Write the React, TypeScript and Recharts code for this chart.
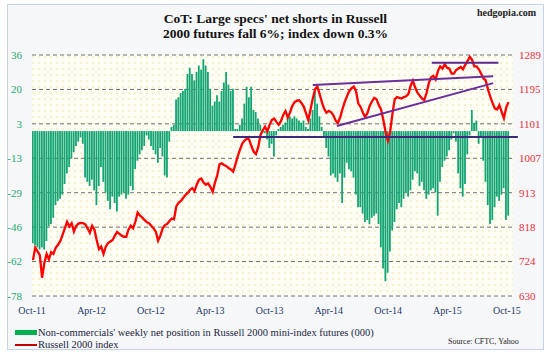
import React from 'react';
import { ComposedChart, Bar, Line, XAxis, YAxis, CartesianGrid, ReferenceLine } from 'recharts';

const AXIS_START = '2011-10-01';
const AXIS_END = '2015-10-20';
const FIRST_REPORT = '2011-10-04';

const X_TICK_DATES = ['2011-10-01', '2012-04-01', '2012-10-01', '2013-04-01', '2013-10-01', '2014-04-01', '2014-10-01', '2015-04-01', '2015-10-01'];
const X_TICK_LABELS = ['Oct-11', 'Apr-12', 'Oct-12', 'Apr-13', 'Oct-13', 'Apr-14', 'Oct-14', 'Apr-15', 'Oct-15'];

const LEFT_MIN = -78;
const LEFT_MAX = 36;
const LEFT_TICK_LABELS = ['-78', '-62', '-46', '-29', '-13', '3', '20', '36'];
const RIGHT_MIN = 630;
const RIGHT_MAX = 1289;
const RIGHT_TICK_LABELS = ['630', '724', '818', '913', '1007', '1101', '1195', '1289'];

// Non-commercials' weekly net position (000), weekly from FIRST_REPORT
const netPosition = [
  -53, -54, -55, -56, -55, -56, -52, -45, -44, -41,
  -35, -33, -32, -30, -25, -20, -17, -13, -10, -7,
  -5, -3, -6, -22, -24, -26, -23, -28, -35, -26,
  -17, -24, -29, -33, -37, -31, -34, -38, -31, -30,
  -29, -32, -30, -26, -28, -18, -14, -11, -9, -7,
  -2, -4, -7, -9, -11, -15, -8, -12, -21, -22,
  -5, 2, 3, 15, 16, 18, 19, 20, 27, 30,
  27, 24, 28, 31, 29, 34, 31, 28, 20, 12,
  14, 17, 14, 19, 23, 28, 22, 19, 20, 1,
  1, 3, 6, 13, 21, 16, 21, 10, 9, 6,
  3, -1, -1, -4, -8, -6, -12, -2, 1, 2,
  3, 4, 6, 7, 6, 7, 6, 5, 4, 5,
  2, 1, 6, 10, 19, 13, 7, 2, -3, -8,
  -12, -21, -20, -22, -24, -20, -34, -22, -15, -18,
  -19, -22, -30, -36, -36, -39, -43, -42, -44, -41,
  -40, -39, -44, -55, -65, -71, -67, -57, -47, -43,
  -37, -34, -36, -32, -29, -31, -28, -23, -19, -20,
  -26, -24, -28, -32, -30, -28, -27, -29, -40, -24,
  -17, -14, -12, -9, -4, -1, -5, -20, -27, -31,
  -25, -11, -2, 10, 4, 5, -6, -3, -14, -24,
  -35, -44, -42, -36, -31, -33, -30, -27, -42, -40,
];

// Russell 2000 index, same weeks
const russell2000 = [
  728, 762, 752, 742, 680, 720, 745, 730, 750, 745,
  762, 770, 780, 797, 815, 833, 820, 829, 806, 822,
  828, 830, 829, 826, 815, 803, 822, 812, 783, 758,
  765, 745, 765, 775, 779, 783, 795, 805, 800, 795,
  792, 792, 812, 822, 815, 833, 858, 850, 845, 838,
  832, 829, 822, 815, 806, 781, 795, 815, 824, 827,
  835, 842, 840, 875, 885, 890, 898, 906, 912, 920,
  925, 917, 935, 948, 951, 940, 934, 938, 928, 915,
  940, 960, 990, 993, 988, 985, 980, 976, 970, 990,
  1012, 1030, 1047, 1055, 1060, 1058, 1040, 1025, 1018, 1037,
  1070, 1083, 1093, 1080, 1098, 1111, 1115, 1106, 1098, 1108,
  1125, 1136, 1118, 1132, 1150, 1160, 1164, 1165, 1158, 1148,
  1130, 1111, 1140, 1170, 1195, 1203, 1182, 1160, 1142, 1131,
  1136, 1133, 1125, 1110, 1103, 1118, 1140, 1160, 1176, 1190,
  1198, 1203, 1190, 1157, 1147, 1132, 1120, 1130, 1150, 1162,
  1172, 1168, 1152, 1140, 1112, 1078, 1055, 1080, 1128, 1168,
  1174, 1172, 1170, 1174, 1176, 1182, 1205, 1219, 1200, 1186,
  1178, 1170, 1166, 1185, 1212, 1228, 1232, 1222, 1245, 1258,
  1252, 1264, 1254, 1252, 1238, 1238, 1248, 1252, 1256, 1250,
  1262, 1272, 1284, 1276, 1258, 1258, 1250, 1238, 1225, 1220,
  1195, 1175, 1158, 1143, 1140, 1152, 1134, 1116, 1145, 1160,
];

// Trend lines drawn on the index (start date, start level, end date, end level)
const TREND_LINES = [
  { from: '2013-06-11', fromLevel: 1065, to: '2015-11-04', toLevel: 1065, color: '#3b2a7e' },
  { from: '2015-02-12', fromLevel: 1268, to: '2015-09-05', toLevel: 1268, color: '#5b2a8e' },
  { from: '2014-02-11', fromLevel: 1207, to: '2015-08-20', toLevel: 1231, color: '#6a2f9a' },
  { from: '2014-04-26', fromLevel: 1095, to: '2015-08-20', toLevel: 1212, color: '#6a2f9a' },
];

const DAY_MS = 86400000;
const dayOf = (s: string) => (Date.parse(s) - Date.parse(AXIS_START)) / DAY_MS;
const firstDay = dayOf(FIRST_REPORT);
const endDay = dayOf(AXIS_END);

const data = netPosition.map((v, i) => ({ day: firstDay + 7 * i, net: v, rut: russell2000[i] }));
const xTicks = X_TICK_DATES.map(dayOf);
const leftTicks = LEFT_TICK_LABELS.map((_, k) => LEFT_MIN + (k * (LEFT_MAX - LEFT_MIN)) / (LEFT_TICK_LABELS.length - 1));
const rightTicks = RIGHT_TICK_LABELS.map((_, k) => RIGHT_MIN + (k * (RIGHT_MAX - RIGHT_MIN)) / (RIGHT_TICK_LABELS.length - 1));

const SERIF = '"Liberation Serif", "Times New Roman", "DejaVu Serif", serif';

export default function App() {
  return (
    <div style={{ position: 'absolute', left: 0, top: 0, width: 551, height: 352, background: '#ffffff', fontFamily: SERIF }}>
      <div style={{ position: 'absolute', left: 7, top: 4, width: 535, height: 344, border: '1px solid #c6d3e3', background: '#f6f7f9' }} />
      <div style={{ position: 'absolute', left: 0, top: 0 }}>
        <ComposedChart width={551} height={352} data={data} margin={{ top: 55, right: 0, bottom: 36, left: 0 }}>
          <defs>
            <pattern id="dots" width="6" height="6" patternUnits="userSpaceOnUse">
              <rect width="6" height="6" fill="#fdfdf4" />
              <circle cx="3" cy="3" r="0.8" fill="#ece3a0" />
            </pattern>
          </defs>
          <CartesianGrid yAxisId="left" vertical={false} fill="url(#dots)" stroke="#707070" strokeDasharray="4 3" />
          <XAxis
            dataKey="day"
            type="number"
            domain={[0, endDay]}
            ticks={xTicks}
            interval={0}
            tickFormatter={(_v: number, i: number) => X_TICK_LABELS[i]}
            axisLine={false}
            tickLine={false}
            tickSize={0}
            tickMargin={11}
            height={20}
            allowDataOverflow
            tick={{ fill: '#1f3864', fontSize: 10, fontFamily: SERIF }}
          />
          <YAxis
            yAxisId="left"
            domain={[LEFT_MIN, LEFT_MAX]}
            ticks={leftTicks}
            interval={0}
            tickFormatter={(_v: number, i: number) => LEFT_TICK_LABELS[i]}
            axisLine={false}
            tickLine={false}
            tickSize={0}
            tickMargin={10}
            width={32}
            allowDataOverflow
            tick={{ fill: '#22a86e', fontSize: 11, fontFamily: SERIF }}
          />
          <YAxis
            yAxisId="right"
            orientation="right"
            domain={[RIGHT_MIN, RIGHT_MAX]}
            ticks={rightTicks}
            interval={0}
            tickFormatter={(_v: number, i: number) => RIGHT_TICK_LABELS[i]}
            axisLine={false}
            tickLine={false}
            tickSize={0}
            tickMargin={6}
            width={38}
            allowDataOverflow
            tick={{ fill: '#e5303a', fontSize: 11, fontFamily: SERIF }}
          />
          <Bar yAxisId="left" dataKey="net" fill="#12a472" barSize={1.8} isAnimationActive={false} />
          <Line yAxisId="right" dataKey="rut" type="linear" stroke="#ff0000" strokeWidth={2.3} dot={false} isAnimationActive={false} />
          {TREND_LINES.map((t, k) => (
            <ReferenceLine
              key={k}
              yAxisId="right"
              ifOverflow="visible"
              stroke={t.color}
              strokeWidth={2}
              segment={[{ x: dayOf(t.from), y: t.fromLevel }, { x: dayOf(t.to), y: t.toLevel }]}
            />
          ))}
        </ComposedChart>
      </div>
      <div style={{ position: 'absolute', left: 0, width: 551, top: 11, textAlign: 'center', fontWeight: 'bold', fontSize: 13.5, lineHeight: '15px', color: '#111' }}>
        <div>CoT: Large specs' net shorts in Russell</div>
        <div>2000 futures fall 6%; index down 0.3%</div>
      </div>
      <div style={{ position: 'absolute', left: 477, top: 7, fontWeight: 'bold', fontSize: 10, color: '#222' }}>hedgopia.com</div>
      <div style={{ position: 'absolute', left: 15, top: 330, width: 22, height: 5, background: '#00b050' }} />
      <div style={{ position: 'absolute', left: 38, top: 327, fontSize: 10.5, lineHeight: '12px', color: '#1a2440', whiteSpace: 'nowrap' }}>
        Non-commercials' weekly net position in Russell 2000 mini-index futures (000)
      </div>
      <div style={{ position: 'absolute', left: 15, top: 344, width: 22, height: 2, background: '#c00000' }} />
      <div style={{ position: 'absolute', left: 38, top: 339, fontSize: 10.5, lineHeight: '12px', color: '#1a2440', whiteSpace: 'nowrap' }}>
        Russell 2000 index
      </div>
      <div style={{ position: 'absolute', left: 448, top: 337, fontSize: 8, lineHeight: '10px', color: '#222', whiteSpace: 'nowrap' }}>
        Source: CFTC, Yahoo
      </div>
    </div>
  );
}
